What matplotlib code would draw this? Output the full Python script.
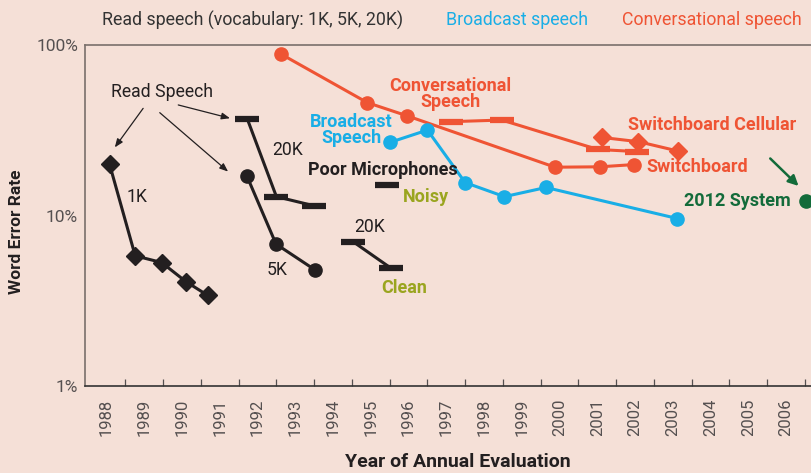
import numpy as np
import matplotlib
matplotlib.use("Agg")
import matplotlib.pyplot as plt

plt.rcParams['font.family'] = ['Roboto', 'DejaVu Sans']

# colours
BG = '#F5E0D7'
RED = '#EF5434'
BLUE = '#19AEE6'
OLIVE = '#9AA51F'
GREEN = '#136B3A'
BLACK = '#231F20'
GRAY = '#555050'

# ---- data (word error rate in %, x = evaluation year) ----
years = list(range(1988, 2007))

read_1k_x = [1988.08, 1988.76, 1989.46, 1990.10, 1990.68]
read_1k_y = [20.0, 5.8, 5.3, 4.1, 3.4]

read_5k_x = [1991.72, 1992.49, 1993.52]
read_5k_y = [17.0, 6.8, 4.8]

read_20k_x = [1991.73, 1992.50, 1993.50]
read_20k_y = [36.8, 12.9, 11.4]

noisy_x = [1995.44]
noisy_y = [15.0]

clean_x = [1994.54, 1995.54]
clean_y = [7.0, 4.9]

switchboard_x = [1992.62, 1994.91, 1995.95, 1999.88, 2001.07, 2001.98]
switchboard_y = [88.5, 45.9, 38.5, 19.2, 19.3, 19.9]

cellular_bar_x = [1997.12, 1998.47, 2001.01, 2002.06]
cellular_bar_y = [35.5, 36.3, 24.4, 23.7]

cellular_x = [2001.12, 2002.09, 2003.13]
cellular_y = [28.7, 27.1, 23.9]

broadcast_x = [1995.52, 1996.50, 1997.50, 1998.54, 1999.64, 2003.12]
broadcast_y = [26.9, 31.7, 15.6, 12.9, 14.6, 9.6]

system2012_x = [2006.53]
system2012_y = [12.2]

fig = plt.figure(figsize=(8.11, 4.73), dpi=100, facecolor=BG)
ax = fig.add_axes([85 / 811, 87 / 473, 1 - 85 / 811, (386 - 45) / 473])
ax.set_facecolor(BG)
ax.set_yscale('log')
ax.set_ylim(1, 100)
ax.set_xlim(1987.43, 2006.66)

lw = 2.2
bar = dict(marker='_', markersize=17, markeredgewidth=4.5)

# read speech
ax.plot(read_1k_x, read_1k_y, color=BLACK, lw=lw, marker='D', markersize=9)
ax.plot(read_5k_x, read_5k_y, color=BLACK, lw=lw, marker='o', markersize=9.5)
ax.plot(read_20k_x, read_20k_y, color=BLACK, lw=lw, **bar)
ax.plot(noisy_x, noisy_y, color=BLACK, lw=0, **bar)
ax.plot(clean_x, clean_y, color=BLACK, lw=lw, **bar)

# conversational
ax.plot(switchboard_x, switchboard_y, color=RED, lw=lw, marker='o', markersize=9.5)
ax.plot(cellular_bar_x, cellular_bar_y, color=RED, lw=lw, **bar)
ax.plot(cellular_x, cellular_y, color=RED, lw=lw, marker='D', markersize=9)

# broadcast
ax.plot(broadcast_x, broadcast_y, color=BLUE, lw=lw, marker='o', markersize=9.5)

ax.plot(system2012_x, system2012_y, color=GREEN, lw=0, marker='o', markersize=9.5,
        clip_on=False)

# annotations
fs = 12.7
ax.text(1989.46, 53.2, 'Read Speech', color=BLACK, fontsize=fs, ha='center', va='center')
arr = dict(arrowstyle='-|>,head_length=0.5,head_width=0.2', color=BLACK, lw=0.9,
           shrinkA=0, shrinkB=0)
ax.annotate('', xy=(1988.22, 25.1), xytext=(1988.97, 42.5), arrowprops=arr)
ax.annotate('', xy=(1991.22, 18.1), xytext=(1989.41, 40.1), arrowprops=arr)
ax.annotate('', xy=(1991.27, 37.2), xytext=(1989.90, 44.5), arrowprops=arr)

ax.text(1988.81, 12.9, '1K', color=BLACK, fontsize=fs, ha='center', va='center')
ax.text(1992.81, 24.2, '20K', color=BLACK, fontsize=fs, ha='center', va='center')
ax.text(1992.51, 4.79, '5K', color=BLACK, fontsize=fs, ha='center', va='center')
ax.text(1994.96, 8.53, '20K', color=BLACK, fontsize=fs, ha='center', va='center')

bfs = 13
ax.text(1995.88, 3.76, 'Clean', color=OLIVE, fontsize=bfs, fontweight='bold',
        ha='center', va='center')
ax.text(1993.34, 18.5, 'Poor Microphones', color=BLACK, fontsize=bfs, fontweight='bold',
        ha='left', va='center')
ax.text(1996.46, 12.9, 'Noisy', color=OLIVE, fontsize=bfs, fontweight='bold',
        ha='center', va='center')
ax.text(1994.49, 31.7, 'Broadcast\nSpeech', color=BLUE, fontsize=bfs, fontweight='bold',
        ha='center', va='center', linespacing=0.9)
ax.text(1997.10, 51.7, 'Conversational\nSpeech', color=RED, fontsize=bfs, fontweight='bold',
        ha='center', va='center', linespacing=0.9)
ax.text(2001.82, 34.0, 'Switchboard Cellular', color=RED, fontsize=bfs, fontweight='bold',
        ha='left', va='center')
ax.text(2002.31, 19.2, 'Switchboard', color=RED, fontsize=bfs, fontweight='bold',
        ha='left', va='center')
ax.text(2003.30, 12.2, '2012 System', color=GREEN, fontsize=bfs, fontweight='bold',
        ha='left', va='center')
ax.annotate('', xy=(2006.33, 14.9), xytext=(2005.58, 21.6),
            arrowprops=dict(arrowstyle='-|>,head_length=0.6,head_width=0.3',
                            color=GREEN, lw=1.8, shrinkA=0, shrinkB=0))

# axes styling
ax.set_xticks(years)
ax.set_xticklabels([str(y) for y in years], rotation=90, color=GRAY, fontsize=12)
ax.set_xticks(np.arange(1988.5, 2007, 1.0), minor=True)
ax.tick_params(axis='x', which='major', length=0, pad=9)
ax.tick_params(axis='x', which='minor', direction='in', length=5, width=0.9, color=GRAY)
ax.set_yticks([1, 10, 100])
ax.set_yticklabels(['1%', '10%', '100%'], color=GRAY, fontsize=12.5)
ax.yaxis.set_minor_locator(matplotlib.ticker.NullLocator())
ax.tick_params(axis='y', which='major', length=0, pad=5)

ax.spines['right'].set_visible(False)
for s in ('left', 'top'):
    ax.spines[s].set_color('#7A706C')
    ax.spines[s].set_linewidth(1.2)
ax.spines['bottom'].set_color('#333333')
ax.spines['bottom'].set_linewidth(1.2)

fig.text(17 / 811, 1 - 232 / 473, 'Word Error Rate', rotation=90, fontsize=12.5,
         fontweight='bold', color=BLACK, ha='center', va='center')
fig.text(458 / 811, 1 - 462 / 473, 'Year of Annual Evaluation', fontsize=14,
         fontweight='bold', color=BLACK, ha='center', va='center')

fig.text(102 / 811, 1 - 20 / 473, 'Read speech (vocabulary: 1K, 5K, 20K)', fontsize=12.8,
         color='#333333', ha='left', va='center')
fig.text(446 / 811, 1 - 20 / 473, 'Broadcast speech', fontsize=12.8, color=BLUE,
         ha='left', va='center')
fig.text(622 / 811, 1 - 20 / 473, 'Conversational speech', fontsize=12.8, color=RED,
         ha='left', va='center')

fig.savefig('out.png', dpi=100, facecolor=BG)
